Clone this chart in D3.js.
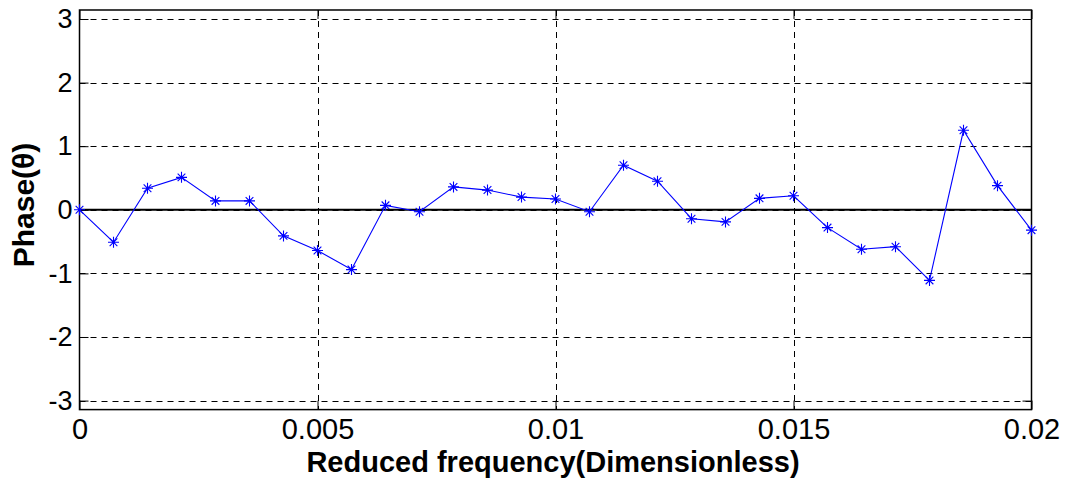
<!DOCTYPE html>
<html>
<head>
<meta charset="utf-8">
<script src="https://cdn.jsdelivr.net/npm/d3@7"></script>
<style>
  body { margin: 0; background: #fff; }
  svg { display: block; }
  text { font-family: "Liberation Sans", Arial, sans-serif; fill: #000; }
</style>
</head>
<body>
<svg id="chart" width="1067" height="479"></svg>
<script>
// phase samples (29 points from 0 to 0.02)
var phase = [0, -0.51, 0.34, 0.51, 0.14, 0.14, -0.41, -0.64, -0.94, 0.07,
             -0.03, 0.36, 0.31, 0.20, 0.17, -0.03, 0.70, 0.45, -0.14, -0.19,
             0.18, 0.22, -0.28, -0.62, -0.58, -1.11, 1.25, 0.38, -0.32];
var xTicks = [0, 0.005, 0.01, 0.015, 0.02];
var xTickLabels = ["0", "0.005", "0.01", "0.015", "0.02"];
var yTicks = [-3, -2, -1, 0, 1, 2, 3];
var yTickLabels = ["-3", "-2", "-1", "0", "1", "2", "3"];
var xMax = 0.02;

var pLeft = 79.5, pRight = 1031.5, pTop = 10, pBottom = 409.6;

var svg = d3.select('#chart');

var x = d3.scaleLinear().domain([0, xMax]).range([pLeft, pRight]);
var y = d3.scaleLinear().domain([-Math.PI, Math.PI]).range([pBottom, pTop]);

var step = xMax / (phase.length - 1);
var pts = phase.map(function(v, i){ return {f: i * step, p: v}; });

// dashed grid
svg.append('g').selectAll('line')
    .data(xTicks.slice(1, -1))
    .enter().append('line')
    .attr('x1', function(d){ return Math.round(x(d)) + 0.5; })
    .attr('x2', function(d){ return Math.round(x(d)) + 0.5; })
    .attr('y1', pTop).attr('y2', pBottom)
    .attr('stroke', '#000').attr('stroke-width', 1)
    .attr('stroke-dasharray', '6,5');

svg.append('g').selectAll('line')
    .data(yTicks)
    .enter().append('line')
    .attr('x1', pLeft).attr('x2', pRight)
    .attr('y1', function(d){ return Math.round(y(d)) + 0.5; })
    .attr('y2', function(d){ return Math.round(y(d)) + 0.5; })
    .attr('stroke', '#000').attr('stroke-width', 1)
    .attr('stroke-dasharray', '6,5');

// zero reference line
svg.append('line')
    .attr('x1', pLeft).attr('x2', pRight)
    .attr('y1', y(0)).attr('y2', y(0))
    .attr('stroke', '#000').attr('stroke-width', 2);

// frame
svg.append('rect')
    .attr('x', pLeft).attr('y', pTop)
    .attr('width', pRight - pLeft).attr('height', pBottom - pTop)
    .attr('fill', 'none').attr('stroke', '#000').attr('stroke-width', 1.5);

// axes (inward ticks, labels only on left/bottom)
var xAxis = d3.axisBottom(x).tickValues(xTicks)
    .tickFormat(function(d, i){ return xTickLabels[i]; })
    .tickSizeInner(-9).tickSizeOuter(0);
var gx = svg.append('g').attr('transform', 'translate(0,' + pBottom + ')').call(xAxis);
gx.select('.domain').remove();
gx.selectAll('text').style('font-size', '29px').attr('y', 9).attr('dy', '0.71em');

var gxt = svg.append('g').attr('transform', 'translate(0,' + pTop + ')')
    .call(d3.axisTop(x).tickValues(xTicks).tickSizeInner(-9).tickSizeOuter(0).tickFormat(''));
gxt.select('.domain').remove();

var yAxis = d3.axisLeft(y).tickValues(yTicks)
    .tickFormat(function(d, i){ return yTickLabels[i]; })
    .tickSizeInner(-9).tickSizeOuter(0);
var gy = svg.append('g').attr('transform', 'translate(' + pLeft + ',0)').call(yAxis);
gy.select('.domain').remove();
gy.selectAll('text').style('font-size', '27px').attr('x', -7);

var gyr = svg.append('g').attr('transform', 'translate(' + pRight + ',0)')
    .call(d3.axisRight(y).tickValues(yTicks).tickSizeInner(-9).tickSizeOuter(0).tickFormat(''));
gyr.select('.domain').remove();

svg.selectAll('.tick line').attr('stroke', '#000');

// data line
var line = d3.line()
    .x(function(d){ return x(d.f); })
    .y(function(d){ return y(d.p); });

svg.append('path')
    .datum(pts)
    .attr('d', line)
    .attr('fill', 'none')
    .attr('stroke', '#0000ff')
    .attr('stroke-width', 1.1);

// asterisk markers
var r = 5.5;
var star = 'M' + (-r) + ',0L' + r + ',0M0,' + (-r) + 'L0,' + r +
           'M' + (-r * 0.7) + ',' + (-r * 0.7) + 'L' + (r * 0.7) + ',' + (r * 0.7) +
           'M' + (-r * 0.7) + ',' + (r * 0.7) + 'L' + (r * 0.7) + ',' + (-r * 0.7);

svg.append('g').selectAll('path')
    .data(pts)
    .enter().append('path')
    .attr('transform', function(d){ return 'translate(' + x(d.f) + ',' + y(d.p) + ')'; })
    .attr('d', star)
    .attr('stroke', '#0000ff')
    .attr('stroke-width', 1.1)
    .attr('fill', 'none');

// axis titles
svg.append('text')
    .attr('x', 553).attr('y', 472)
    .attr('text-anchor', 'middle')
    .style('font-size', '29px').style('font-weight', 'bold')
    .text('Reduced frequency(Dimensionless)');

svg.append('text')
    .attr('transform', 'translate(34,205) rotate(-90)')
    .attr('text-anchor', 'middle')
    .style('font-size', '30px').style('font-weight', 'bold')
    .text('Phase(θ)');
</script>
</body>
</html>
